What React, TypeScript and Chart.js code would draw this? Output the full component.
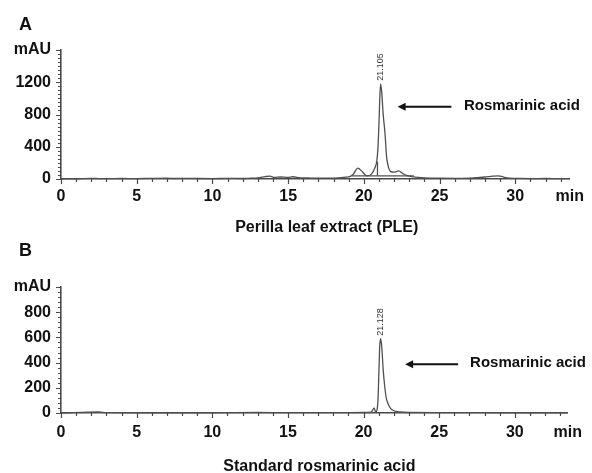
import React, { useEffect, useRef } from 'react';
import { Chart, registerables } from 'chart.js';

Chart.register(...registerables);

const FONT = '"Liberation Sans", Arial, Helvetica, sans-serif';
const AXIS = '#4a4a4a';
const LINE = '#505050';
const TEXT = '#111111';

// ---- Panel A: Perilla leaf extract (PLE) ----
const timesA = [
  0, 1, 2, 2.5, 3, 4, 5, 6, 7, 7.5, 8, 9, 10, 11, 12, 12.5, 13, 13.5, 13.8, 14.1, 14.5, 15, 15.3, 15.8,
  16.5, 17, 18, 18.5, 19, 19.3, 19.6, 19.9, 20.2, 20.5, 20.75, 20.85, 20.93, 21.0, 21.05, 21.105, 21.18,
  21.27, 21.4, 21.5, 21.62, 21.75, 22.0, 22.3, 22.55, 22.8, 23.2, 23.6, 24, 25, 26, 27, 28, 28.5, 28.9,
  29.2, 29.6, 30, 31, 32, 33, 33.6,
];
const valuesA = [
  0, 2, 8, 5, 4, 6, 5, 8, 10, 6, 8, 6, 5, 8, 6, 10, 15, 30, 35, 20, 25, 20, 28, 15,
  12, 10, 12, 18, 25, 60, 135, 90, 38, 60, 150, 215, 380, 700, 980, 1180, 1080,
  820, 560, 280, 150, 95, 85, 100, 70, 45, 30, 20, 15, 10, 8, 12, 25, 35, 40,
  25, 10, 8, 5, 6, 4, 5,
];
const baseTimesA = [19.2, 23.3];
const baseValuesA = [40, 40];
const dropTimesA = [20.9, 20.9];
const dropValuesA = [40, 215];
const yTicksA = [0, 400, 800, 1200];

// ---- Panel B: Standard rosmarinic acid ----
const timesB = [
  0, 2.5, 3, 5, 10, 13, 15, 18, 20, 20.5, 20.7, 20.8, 20.9, 20.97, 21.02, 21.07, 21.128, 21.2, 21.3,
  21.4, 21.5, 21.65, 21.8, 22.0, 22.4, 23, 25, 30, 33.5,
];
const valuesB = [
  0, 8, 3, 2, 2, 4, 3, 3, 4, 6, 40, 8, 30, 150, 350, 530, 590, 530, 340,
  210, 120, 65, 35, 18, 8, 4, 3, 2, 2,
];
const yTicksB = [0, 200, 400, 600, 800];

const xTicks = [0, 5, 10, 15, 20, 25, 30];

type PanelCfg = {
  letter: string;
  title: string;
  titleAt: number;
  titleOffset: number;
  height: number;
  top: number;
  padTop: number;
  padRight: number;
  xAxisHeight: number;
  xLabelPad: number;
  xMax: number;
  yMax: number;
  yTicks: number[];
  yMinor: number;
  letterY: number;
  peakTime: number;
  peakValue: number;
  peakLabel: string;
  arrowFrom: number;
  arrowTo: number;
  arrowY: number;
  noteX: number;
  noteY: number;
  series: { times: number[]; values: number[] }[];
};

const panels: PanelCfg[] = [
  {
    letter: 'A',
    title: 'Perilla leaf extract (PLE)',
    titleAt: 17.55,
    titleOffset: 49,
    height: 236,
    top: 0,
    padTop: 50,
    padRight: 19,
    xAxisHeight: 57,
    xLabelPad: 8,
    xMax: 33.6,
    yMax: 1600,
    yTicks: yTicksA,
    yMinor: 50,
    letterY: 25,
    peakTime: 21.105,
    peakValue: 1180,
    peakLabel: '21.105',
    arrowFrom: 25.78,
    arrowTo: 22.23,
    arrowY: 897,
    noteX: 26.61,
    noteY: 905,
    series: [
      { times: timesA, values: valuesA },
      { times: baseTimesA, values: baseValuesA },
      { times: dropTimesA, values: dropValuesA },
    ],
  },
  {
    letter: 'B',
    title: 'Standard rosmarinic acid',
    titleAt: 17.08,
    titleOffset: 54,
    height: 237,
    top: 236,
    padTop: 51,
    padRight: 21,
    xAxisHeight: 60,
    xLabelPad: 10,
    xMax: 33.5,
    yMax: 1000,
    yTicks: yTicksB,
    yMinor: 40,
    letterY: 15,
    peakTime: 21.128,
    peakValue: 590,
    peakLabel: '21.128',
    arrowFrom: 26.25,
    arrowTo: 22.75,
    arrowY: 386,
    noteX: 27.04,
    noteY: 400,
    series: [{ times: timesB, values: valuesB }],
  },
];

function Panel({ cfg }: { cfg: PanelCfg }) {
  const ref = useRef<HTMLCanvasElement | null>(null);

  useEffect(() => {
    if (!ref.current) return;
    const decor = {
      id: 'decor',
      afterDraw(chart: any) {
        const { ctx, chartArea } = chart;
        const xs = chart.scales.x;
        const ys = chart.scales.y;
        ctx.save();
        // minor / major tick marks
        ctx.strokeStyle = AXIS;
        ctx.lineWidth = 1.2;
        ctx.beginPath();
        for (let v = 0; v <= cfg.xMax + 1e-6; v += 1) {
          const px = Math.round(xs.getPixelForValue(v)) + 0.5;
          const len = v % 5 === 0 ? 5 : 3;
          ctx.moveTo(px, chartArea.bottom - 1);
          ctx.lineTo(px, chartArea.bottom + len);
        }
        for (let v = 0; v <= cfg.yMax + 1e-6; v += cfg.yMinor) {
          const py = Math.round(ys.getPixelForValue(v)) + 0.5;
          const major = cfg.yTicks.includes(v) || v === cfg.yMax;
          ctx.moveTo(chartArea.left, py);
          ctx.lineTo(chartArea.left - (major ? 5 : 3), py);
        }
        const topPy = Math.round(ys.getPixelForValue(cfg.yMax)) + 0.5;
        ctx.moveTo(chartArea.left, topPy);
        ctx.lineTo(chartArea.left - 5, topPy);
        ctx.stroke();

        // panel letter
        ctx.fillStyle = TEXT;
        ctx.font = `bold 18px ${FONT}`;
        ctx.textAlign = 'left';
        ctx.textBaseline = 'middle';
        ctx.fillText(cfg.letter, 19, cfg.letterY);

        // peak retention-time label (rotated)
        const pkX = xs.getPixelForValue(cfg.peakTime);
        const pkY = ys.getPixelForValue(cfg.peakValue);
        ctx.save();
        ctx.translate(pkX, pkY - 3);
        ctx.rotate(-Math.PI / 2);
        ctx.font = `9px ${FONT}`;
        ctx.fillStyle = '#333';
        ctx.textAlign = 'left';
        ctx.textBaseline = 'middle';
        ctx.fillText(cfg.peakLabel, 0, 0);
        ctx.restore();

        // arrow
        const ax1 = xs.getPixelForValue(cfg.arrowFrom);
        const ax2 = xs.getPixelForValue(cfg.arrowTo);
        const ay = ys.getPixelForValue(cfg.arrowY);
        ctx.strokeStyle = '#111';
        ctx.lineWidth = 2;
        ctx.beginPath();
        ctx.moveTo(ax1, ay);
        ctx.lineTo(ax2 + 5, ay);
        ctx.stroke();
        ctx.fillStyle = '#111';
        ctx.beginPath();
        ctx.moveTo(ax2, ay);
        ctx.lineTo(ax2 + 8, ay - 4);
        ctx.lineTo(ax2 + 8, ay + 4);
        ctx.closePath();
        ctx.fill();

        // compound note
        ctx.font = `bold 15px ${FONT}`;
        ctx.fillStyle = TEXT;
        ctx.textAlign = 'left';
        ctx.textBaseline = 'middle';
        ctx.fillText('Rosmarinic acid', xs.getPixelForValue(cfg.noteX), ys.getPixelForValue(cfg.noteY));

        // panel title
        ctx.font = `bold 16px ${FONT}`;
        ctx.textAlign = 'center';
        ctx.fillText(cfg.title, xs.getPixelForValue(cfg.titleAt), chartArea.bottom + cfg.titleOffset);
        ctx.restore();
      },
    };

    const datasets = cfg.series.map((s) => ({
      data: s.times.map((t, i) => ({ x: t, y: s.values[i] })),
      borderColor: LINE,
      borderWidth: 1.3,
      pointRadius: 0,
      cubicInterpolationMode: 'monotone' as const,
      fill: false,
      clip: 4,
    }));

    const chart = new Chart(ref.current, {
      type: 'line',
      data: { datasets },
      plugins: [decor],
      options: {
        responsive: false,
        animation: false,
        events: [],
        layout: { padding: { top: cfg.padTop, right: cfg.padRight, left: 0, bottom: 0 } },
        plugins: { legend: { display: false }, tooltip: { enabled: false } },
        scales: {
          x: {
            type: 'linear',
            min: 0,
            max: cfg.xMax,
            border: { display: true, color: AXIS, width: 1.6 },
            grid: { display: false, drawTicks: false },
            afterBuildTicks: (s: any) => {
              s.ticks = [...xTicks, cfg.xMax].map((v) => ({ value: v }));
            },
            afterFit: (s: any) => {
              s.height = cfg.xAxisHeight;
            },
            ticks: {
              autoSkip: false,
              minRotation: 0,
              maxRotation: 0,
              padding: cfg.xLabelPad,
              color: TEXT,
              font: { family: FONT, size: 16, weight: 'bold' },
              callback: (v: any) => (v === cfg.xMax ? 'min' : String(v)),
            },
          },
          y: {
            type: 'linear',
            min: 0,
            max: cfg.yMax,
            border: { display: true, color: AXIS, width: 1.6 },
            grid: { display: false, drawTicks: false },
            afterBuildTicks: (s: any) => {
              s.ticks = [...cfg.yTicks, cfg.yMax].map((v) => ({ value: v }));
            },
            afterFit: (s: any) => {
              s.width = 61;
            },
            ticks: {
              padding: 10,
              color: TEXT,
              font: { family: FONT, size: 16, weight: 'bold' },
              callback: (v: any) => (v === cfg.yMax ? 'mAU' : String(v)),
            },
          },
        },
      } as any,
    });
    return () => chart.destroy();
  }, [cfg]);

  return (
    <canvas
      ref={ref}
      width={592}
      height={cfg.height}
      style={{ position: 'absolute', left: 0, top: cfg.top, width: 592, height: cfg.height, display: 'block' }}
    />
  );
}

export default function App() {
  return (
    <div style={{ position: 'absolute', left: 0, top: 0, width: 592, height: 473, background: '#fff' }}>
      {panels.map((p) => (
        <Panel key={p.letter} cfg={p} />
      ))}
    </div>
  );
}
